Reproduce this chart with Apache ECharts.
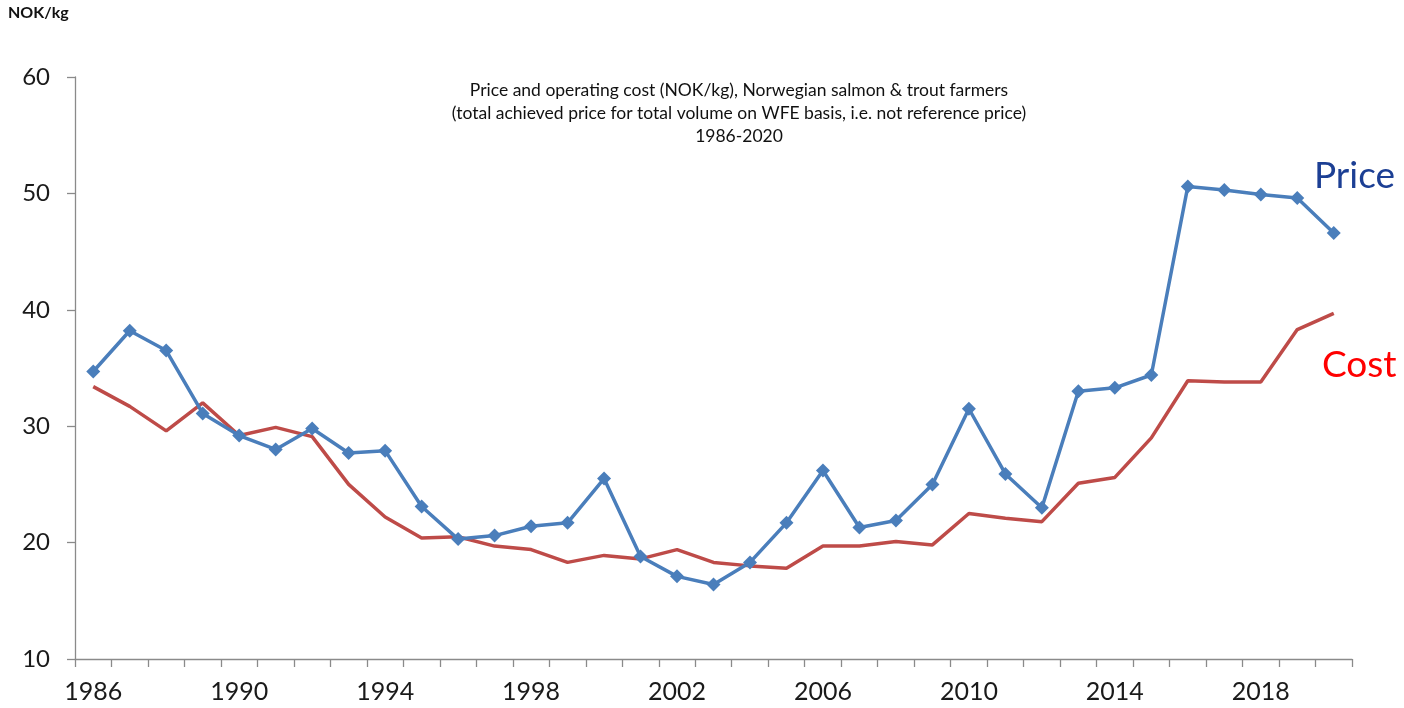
<!DOCTYPE html>
<html>
<head>
<meta charset="utf-8">
<script src="https://cdn.jsdelivr.net/npm/echarts@6/dist/echarts.min.js"></script>
<style>
  html, body { margin: 0; padding: 0; background: #fff; }
  #chart { width: 1404px; height: 708px; }
</style>
</head>
<body>
<div id="chart"></div>
<script>
// years 1986-2020
var years = [
  "1986", "1987", "1988", "1989", "1990", "1991", "1992", "1993", "1994", "1995",
  "1996", "1997", "1998", "1999", "2000", "2001", "2002", "2003", "2004", "2005",
  "2006", "2007", "2008", "2009", "2010", "2011", "2012", "2013", "2014", "2015",
  "2016", "2017", "2018", "2019", "2020"
];

// NOK/kg
var price = [
  34.7, 38.2, 36.5, 31.1, 29.2, 28.0, 29.8, 27.7, 27.9, 23.1,
  20.3, 20.6, 21.4, 21.7, 25.5, 18.8, 17.1, 16.4, 18.3, 21.7,
  26.2, 21.3, 21.9, 25.0, 31.5, 25.9, 23.0, 33.0, 33.3, 34.4,
  50.6, 50.3, 49.9, 49.6, 46.6
];
var cost = [
  33.4, 31.7, 29.6, 32.0, 29.2, 29.9, 29.1, 25.0, 22.2, 20.4,
  20.5, 19.7, 19.4, 18.3, 18.9, 18.6, 19.4, 18.3, 18.0, 17.8,
  19.7, 19.7, 20.1, 19.8, 22.5, 22.1, 21.8, 25.1, 25.6, 29.0,
  33.9, 33.8, 33.8, 38.3, 39.7
];

var yTicks = [10, 20, 30, 40, 50, 60];

var titleLines = [
  "Price and operating cost (NOK/kg), Norwegian salmon & trout farmers",
  "(total achieved price for total volume on WFE basis, i.e. not reference price)",
  "1986-2020"
];

var font = "Lato, 'Open Sans', sans-serif";
var axisColor = "#8a8a8a";

var myChart = echarts.init(document.getElementById("chart"));

var option = {
  backgroundColor: "#ffffff",
  animation: false,
  grid: {
    left: 75,
    right: 52,
    top: 77,
    bottom: 49
  },
  xAxis: {
    type: "category",
    data: years,
    boundaryGap: true,
    axisLine: { lineStyle: { color: axisColor, width: 1.3 } },
    axisTick: { show: true, interval: 0, length: 8, lineStyle: { color: axisColor, width: 1.3 } },
    axisLabel: {
      interval: 3,
      margin: 20,
      fontFamily: font,
      fontSize: 25,
      color: "#1a1a1a"
    },
    splitLine: { show: false }
  },
  yAxis: {
    type: "value",
    min: yTicks[0],
    max: yTicks[yTicks.length - 1],
    interval: 10,
    axisLine: { show: true, lineStyle: { color: axisColor, width: 1.3 } },
    axisTick: { show: true, length: 8, lineStyle: { color: axisColor, width: 1.3 } },
    axisLabel: {
      margin: 25,
      fontFamily: font,
      fontSize: 24,
      color: "#1a1a1a"
    },
    splitLine: { show: false }
  },
  series: [
    {
      name: "Price",
      type: "line",
      data: price,
      symbol: "diamond",
      symbolSize: 14,
      showAllSymbol: true,
      lineStyle: { color: "#4a7ebb", width: 3.5 },
      itemStyle: { color: "#4a7ebb" },
      z: 3
    },
    {
      name: "Cost",
      type: "line",
      data: cost,
      symbol: "none",
      lineStyle: { color: "#be4b48", width: 3.5 },
      itemStyle: { color: "#be4b48" },
      z: 2
    }
  ],
  graphic: [
    {
      type: "text",
      left: 8,
      top: 5,
      style: { text: "NOK/kg", font: "bold 16px " + font, fill: "#111" }
    },
    {
      type: "text",
      x: 739,
      y: 79,
      style: {
        text: titleLines.join("\n"),
        font: "17.5px " + font,
        fill: "#111",
        align: "center",
        lineHeight: 23
      }
    },
    {
      type: "text",
      x: 1314,
      y: 158,
      style: { text: "Price", font: "37px " + font, fill: "#1c3f94" }
    },
    {
      type: "text",
      x: 1322,
      y: 347,
      style: { text: "Cost", font: "37px " + font, fill: "#ff0000" }
    }
  ]
};

myChart.setOption(option);
window.addEventListener("resize", function () { myChart.resize(); });
</script>
</body>
</html>
